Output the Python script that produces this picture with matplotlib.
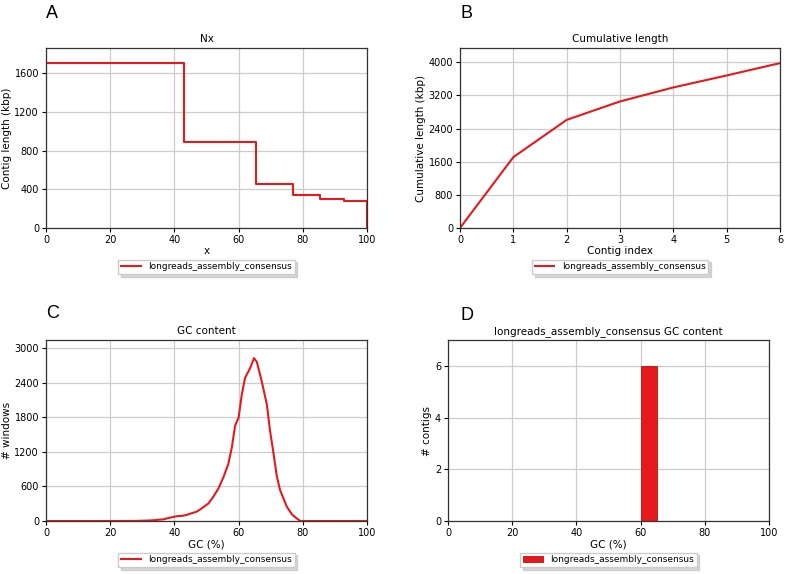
import matplotlib
matplotlib.use("Agg")
import matplotlib.pyplot as plt

# Nx step curve (x in %, contig length in kbp)
nx_x = [0, 43, 43, 65.3, 65.3, 76.8, 76.8, 85.4, 85.4, 92.9, 92.9, 100, 100]
nx_y = [1705, 1705, 891, 891, 452, 452, 343, 343, 296, 296, 283, 283, 0]

# cumulative length (kbp) by contig index
cum_idx = [0, 1, 2, 3, 4, 5, 6]
cum_len = [0, 1710, 2610, 3055, 3393, 3682, 3980]

# GC content distribution of windows
gc_pct = [0, 10, 20, 28, 30, 32, 34, 35, 36.6, 38, 40, 41, 42.8, 44, 45.9, 47, 48, 49,
          50.6, 52.1, 53.7, 55.3, 56.8, 57.9, 58.9, 60, 61, 62, 63.6, 64.8, 65.7, 67.2,
          68.8, 69.8, 70.9, 71.9, 72.9, 74.0, 75.0, 76.6, 78.1, 79.2, 85, 90, 100]
gc_windows = [0, 0, 0, 2, 5, 8, 15, 22, 29, 50, 75, 85, 92, 110, 144, 165, 200, 240,
              304, 420, 563, 764, 993, 1280, 1654, 1797, 2199, 2486, 2658, 2830, 2762, 2428,
              2026, 1567, 1165, 780, 540, 390, 250, 115, 46, 0, 0, 0, 0]

# contig GC histogram
contig_gc_bin = [60]
contig_gc_width = [5]
contig_counts = [6]

label = "longreads_assembly_consensus"
red = "#e41a1c"

W, H = 786, 574
fig = plt.figure(figsize=(W / 100, H / 100), dpi=100)


def add_ax(l, t, r, b):
    return fig.add_axes([l / W, 1 - b / H, (r - l) / W, (b - t) / H])


def style(ax, title, xl, yl, xlim, ylim, yticks, xticks):
    ax.set_title(title, fontsize=7.5, pad=4)
    ax.set_xlabel(xl, fontsize=7.5, labelpad=1)
    ax.set_ylabel(yl, fontsize=7.5, labelpad=2)
    ax.set_xlim(*xlim)
    ax.set_ylim(*ylim)
    ax.set_xticks(xticks)
    ax.set_yticks(yticks)
    ax.tick_params(labelsize=7, length=3, width=0.8, pad=2)
    ax.grid(True, color="#cccccc", linewidth=0.9)
    ax.set_axisbelow(True)
    for s in ax.spines.values():
        s.set_color("#333333")
        s.set_linewidth(0.9)
    ax.legend(loc="upper center", bbox_to_anchor=(0.5, -0.15), fontsize=6.5,
              fancybox=False, shadow={"color": "#b0b0b0"}, framealpha=1,
              edgecolor="#cccccc", handlelength=2.2, borderpad=0.3)


axA = add_ax(46, 48, 367, 228)
axA.plot(nx_x, nx_y, color=red, lw=1.5, label=label)
style(axA, "Nx", "x", "Contig length (kbp)", (0, 100), (0, 1860),
      [0, 400, 800, 1200, 1600], [0, 20, 40, 60, 80, 100])

axB = add_ax(460, 48, 780, 228)
axB.plot(cum_idx, cum_len, color=red, lw=1.5, label=label)
style(axB, "Cumulative length", "Contig index", "Cumulative length (kbp)", (0, 6), (0, 4345),
      [0, 800, 1600, 2400, 3200, 4000], [0, 1, 2, 3, 4, 5, 6])

axC = add_ax(46, 340, 367, 521)
axC.plot(gc_pct, gc_windows, color=red, lw=1.5, label=label)
style(axC, "GC content", "GC (%)", "# windows", (0, 100), (0, 3145),
      [0, 600, 1200, 1800, 2400, 3000], [0, 20, 40, 60, 80, 100])

axD = add_ax(448, 340, 769, 521)
axD.bar(contig_gc_bin, contig_counts, width=contig_gc_width, align="edge",
        color=red, edgecolor="#c01010", linewidth=0.6, label=label)
style(axD, label + " GC content", "GC (%)", "# contigs", (0, 100), (0, 7),
      [0, 2, 4, 6], [0, 20, 40, 60, 80, 100])

for txt, x, y in [("A", 46, 13), ("B", 461, 13), ("C", 46, 314), ("D", 460, 315)]:
    fig.text(x / W, 1 - y / H, txt, fontsize=13, family="Liberation Sans",
             ha="left", va="center")

fig.savefig("out.png", dpi=100)
